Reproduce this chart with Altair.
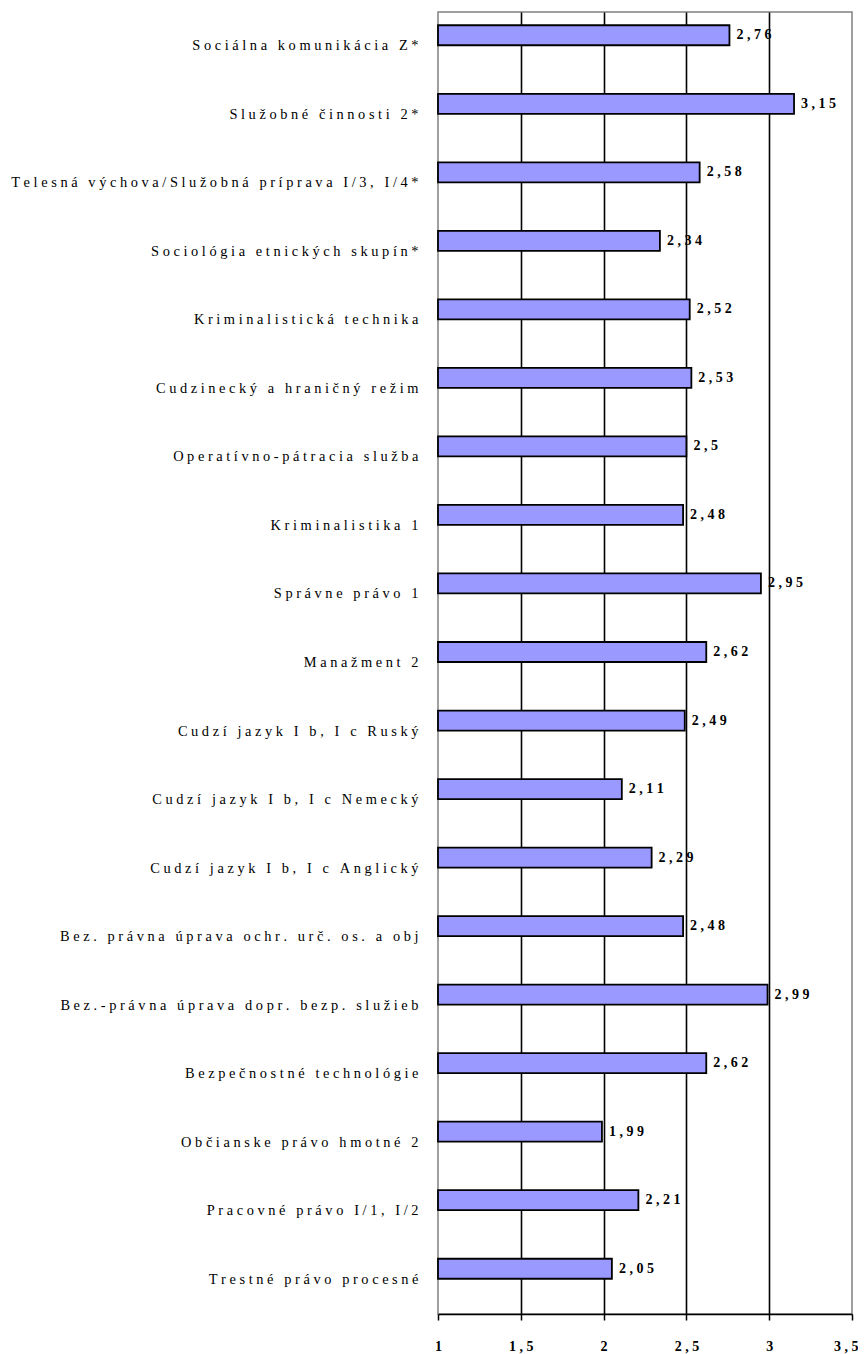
import altair as alt
import pandas as pd

subjects = [
    "Sociálna komunikácia Z*",
    "Služobné činnosti 2*",
    "Telesná výchova/Služobná príprava I/3, I/4*",
    "Sociológia etnických skupín*",
    "Kriminalistická technika",
    "Cudzinecký a hraničný režim",
    "Operatívno-pátracia služba",
    "Kriminalistika 1",
    "Správne právo 1",
    "Manažment 2",
    "Cudzí jazyk I b, I c Ruský",
    "Cudzí jazyk I b, I c Nemecký",
    "Cudzí jazyk I b, I c Anglický",
    "Bez. právna úprava ochr. urč. os. a obj",
    "Bez.-právna úprava dopr. bezp. služieb",
    "Bezpečnostné technológie",
    "Občianske právo hmotné 2",
    "Pracovné právo I/1, I/2",
    "Trestné právo procesné",
]
scores = [2.76, 3.15, 2.58, 2.34, 2.52, 2.53, 2.5, 2.48, 2.95, 2.62,
          2.49, 2.11, 2.29, 2.48, 2.99, 2.62, 1.99, 2.21, 2.05]
x_ticks = [1, 1.5, 2, 2.5, 3, 3.5]

df = pd.DataFrame({"subject": subjects, "value": scores})

SP = "\u2005"
FONT = "Liberation Serif"

y_enc = alt.Y(
    "subject:N",
    sort=subjects,
    scale=alt.Scale(paddingInner=0, paddingOuter=0),
    axis=alt.Axis(
        title=None, ticks=False, domain=False, labelLimit=0,
        labelFont=FONT, labelFontSize=14.4, labelColor="#000000",
        labelPadding=20,
        labelExpr="join(split(datum.label, ''), '" + SP + "')",
    ),
)

x_scale = alt.Scale(domain=[1, 3.5], zero=False, nice=False)
x_axis = alt.Axis(
    title=None, values=x_ticks, labelFlush=False,
    labelFont=FONT, labelFontSize=14, labelFontWeight="bold", labelColor="#000000",
    labelPadding=19, tickSize=6, tickColor="#000000", tickWidth=1.5,
    domainColor="#000000", domainWidth=1.5,
    gridColor="#000000", gridWidth=1.6,
    gridOpacity={"condition": {"test": "datum.value == 1 || datum.value == 3.5", "value": 0}, "value": 1},
    labelAlign={"condition": {"test": "datum.value == 3.5", "value": "right"}, "value": "center"},
    labelOffset={"condition": {"test": "datum.value == 3.5", "value": 6}, "value": 0},
    labelExpr="join(split(replace(toString(datum.value), '.', ','), ''), '" + SP + "')",
)

bars = alt.Chart(df).mark_bar(
    height=20, yOffset=-11, color="#9999FF", stroke="#000000", strokeWidth=1.8
).encode(
    y=y_enc,
    x=alt.X("value:Q", scale=x_scale, axis=x_axis),
    x2=alt.datum(1),
)

labels = alt.Chart(df).transform_calculate(
    lbl="join(split(replace(toString(datum.value), '.', ','), ''), '" + SP + "')"
).mark_text(
    align="left", baseline="middle", dx=7, yOffset=-11,
    font=FONT, fontSize=14, fontWeight="bold", color="#000000",
).encode(
    y=alt.Y("subject:N", sort=subjects),
    x=alt.X("value:Q", scale=x_scale),
    text="lbl:N",
)

chart = alt.layer(bars, labels).properties(
    width=414, height=1302,
    autosize=alt.AutoSizeParams(type="none"),
    padding={"left": 430, "top": 4, "right": 6, "bottom": 40},
).configure_view(
    stroke="#808080", strokeWidth=1.5
)

chart.save("out.html", embed_options={"renderer": "svg", "actions": False})
